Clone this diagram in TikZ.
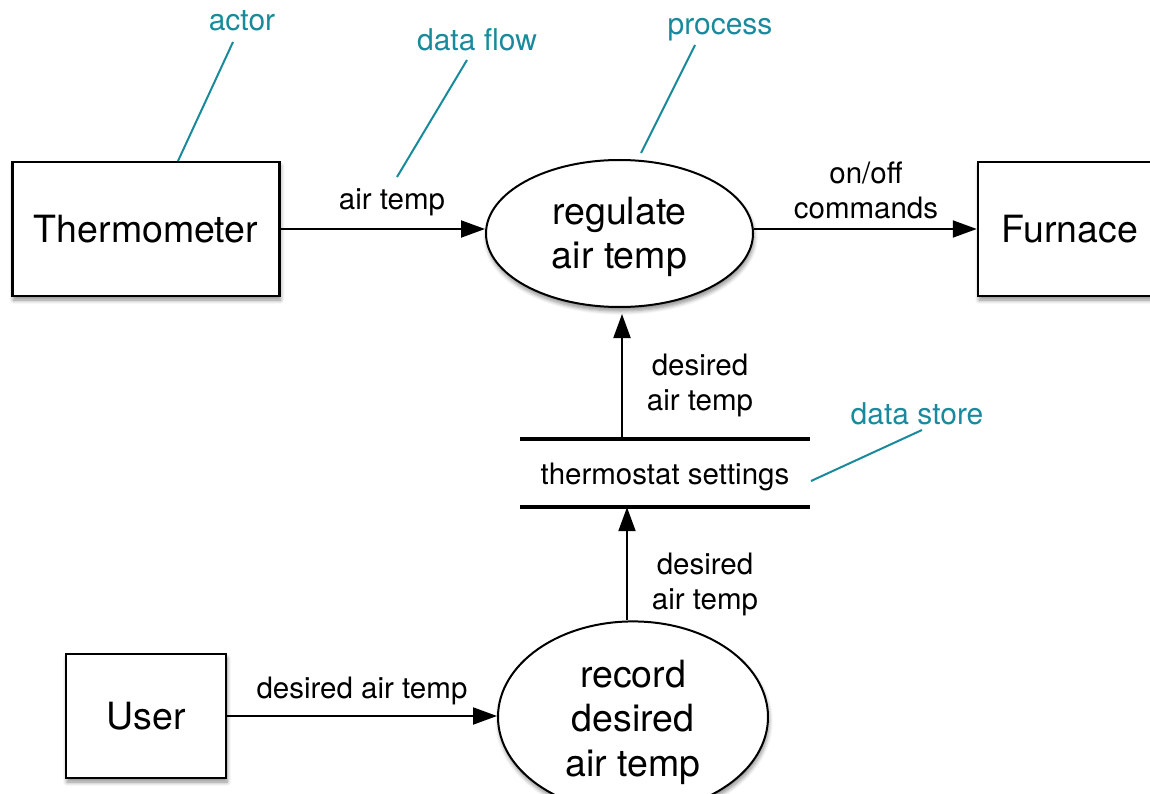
\documentclass[tikz,border=0pt]{standalone}
\usepackage{fontspec}
\setmainfont{TeX Gyre Heros}
\usetikzlibrary{arrows.meta,shapes.geometric,shadows.blur}
\definecolor{notecol}{RGB}{24,138,156}
\begin{document}
\begin{tikzpicture}[x=1pt,y=-1pt,
  bigtext/.style={font=\fontsize{37.5}{44.5}\selectfont},
  smalltext/.style={font=\fontsize{29.5}{35}\selectfont},
  softshadow/.style={blur shadow={shadow xshift=1pt, shadow yshift=-4pt,
      shadow blur radius=4pt, shadow blur steps=6, shadow opacity=45}},
  actorbox/.style={draw, line width=2.5pt, fill=white, bigtext,
      inner sep=0pt, softshadow},
  procell/.style={ellipse, draw, line width=2pt, fill=white, bigtext,
      align=center, inner sep=0pt, softshadow},
  flow/.style={line width=2pt, -{Triangle[length=24pt,width=17pt]}},
  lbl/.style={smalltext, align=center, inner sep=0pt},
  notelbl/.style={text=notecol, font=\fontsize{30}{36}\selectfont, inner sep=0pt},
  noteline/.style={draw=notecol, line width=2pt},
]
\useasboundingbox (0,0) rectangle (1150,794);

% external actors
\node[actorbox, minimum width=267, minimum height=134] (thermo) at (146,229) {Thermometer};
\node[actorbox, minimum width=184, minimum height=134] (furn) at (1070,229) {Furnace};
\node[actorbox, minimum width=160, minimum height=124] (user) at (146,716) {User};

% processes (text height padded to sit the lines a little lower)
\node[procell, minimum width=267, minimum height=147, text height=78.4pt] (reg) at (619.5,233.5) {regulate\\air temp};
\node[procell, minimum width=270, minimum height=158, text height=127pt] (rec) at (633,717) {record\\desired\\air temp};

% data store
\node[lbl, minimum width=290, minimum height=68] (store) at (665,477) {thermostat settings};
\draw[line width=4pt] ([yshift=4pt]store.north west) -- ([yshift=4pt]store.north east);
\draw[line width=4pt] ([yshift=4pt]store.south west) -- ([yshift=4pt]store.south east);

% data flows
\coordinate (up1) at (622,0);
\coordinate (up2) at (627,0);
\draw[flow] (thermo.east) -- (thermo.east -| reg.west);
\draw[flow] (furn.west -| reg.east) -- (furn.west);
\draw[flow] (user.east) -- (user.east -| rec.west);
\draw[flow, shorten >=6pt] ([yshift=2pt]store.north -| up1) -- (reg.south -| up1);
\draw[flow] (rec.north -| up2) -- ([yshift=4pt]store.south -| up2);

% flow labels
\node[lbl] (l1) at (392,202) {air temp};
\node[lbl] (l2) at (866,190) {on/off\\commands};
\node[lbl] (l3) at (700,385) {desired\\air temp};
\node[lbl] (l4) at (705,584) {desired\\air temp};
\node[lbl] (l5) at (362,691) {desired air temp};

% notation callouts
\node[notelbl] (nact) at (242,21) {actor};
\node[notelbl] (nflow) at (477,40) {data flow};
\node[notelbl] (nproc) at (720,30) {process};
\node[notelbl] (nstore) at (917,414) {data store};
\coordinate (ca) at (233,42);   \coordinate (ta) at (178,161);
\coordinate (cf) at (467,60);   \coordinate (tf) at (397,177);
\coordinate (cp) at (695,45);   \coordinate (tp) at (641,153);
\coordinate (cs) at (922,430);  \coordinate (ts) at (811,481);
\draw[noteline] (ca) -- (ta);
\draw[noteline] (cf) -- (tf);
\draw[noteline] (cp) -- (tp);
\draw[noteline] (cs) -- (ts);
\end{tikzpicture}
\end{document}
